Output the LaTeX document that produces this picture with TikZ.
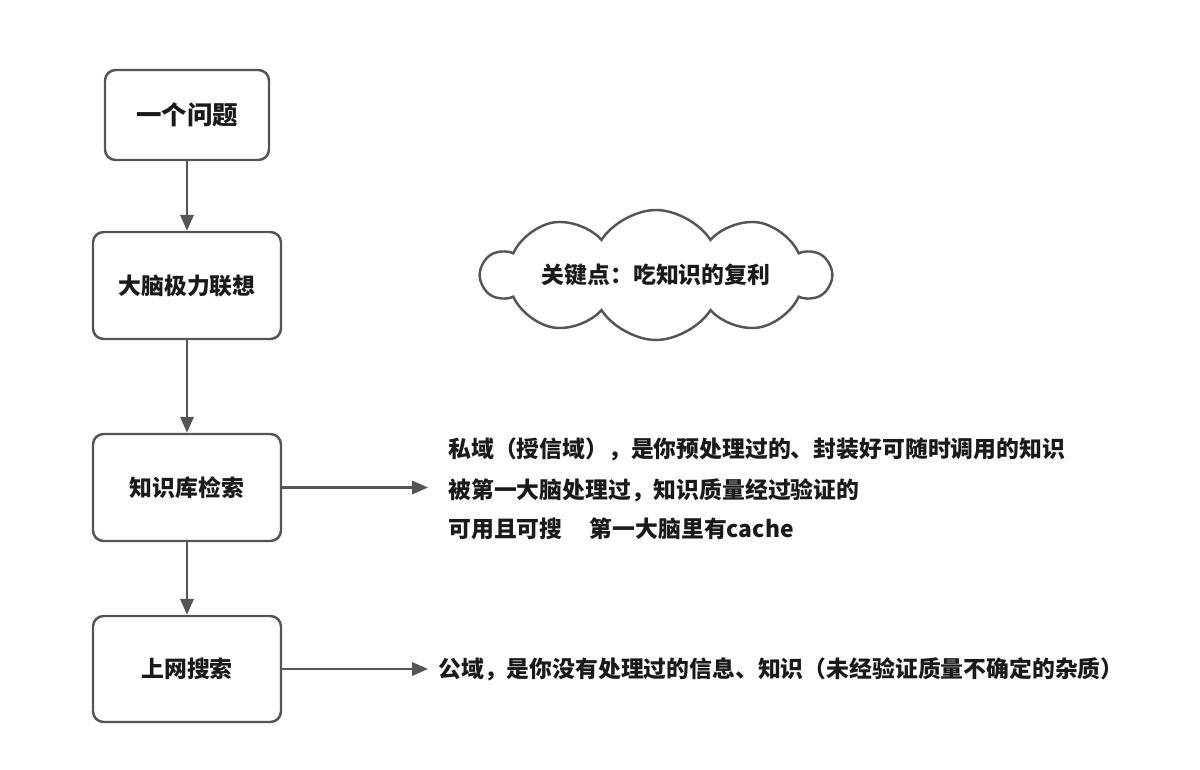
\documentclass[tikz,border=0pt]{standalone}
\usepackage{fontspec}
\setmainfont{Noto Sans CJK SC}
\usepackage{tikz}
\usetikzlibrary{shapes.symbols,arrows.meta,positioning,calc}
\usepackage{xcolor}
\definecolor{linegray}{HTML}{555555}
\definecolor{textdark}{HTML}{1A1A1A}

\tikzset{
  stepbox/.style={draw=linegray, line width=1.4pt, rounded corners=6pt, fill=white,
    text=textdark, font=\bfseries\fontsize{13}{15}\selectfont},
  flow/.style={draw=linegray, line width=1.4pt, -{Triangle[length=9pt,width=7.5pt]}},
  note/.style={anchor=west, text=textdark, inner sep=0pt, font=\bfseries\fontsize{13}{15}\selectfont}
}

\begin{document}
\begin{tikzpicture}[x=0.02cm, y=-0.02cm]
            \useasboundingbox (0,0) rectangle (1200,770);

            % --- Flow boxes ---
            \node[stepbox, minimum width=164*0.02cm, minimum height=90*0.02cm,
                  font=\bfseries\fontsize{14.5}{16}\selectfont] (q) at (187,115) {一个问题};
            \node[stepbox, minimum width=188*0.02cm, minimum height=107*0.02cm] (brain) at (187,285.5) {大脑极力联想};
            \node[stepbox, minimum width=188*0.02cm, minimum height=107*0.02cm] (kb) at (187,487.5) {知识库检索};
            \node[stepbox, minimum width=188*0.02cm, minimum height=106*0.02cm] (web) at (187,669) {上网搜索};

            % Vertical arrows
            \draw[flow] (q) -- (brain);
            \draw[flow] (brain) -- (kb);
            \draw[flow] (kb) -- (web);

            % --- Cloud ---
            \node[cloud, cloud puffs=10, cloud puff arc=115, cloud ignores aspect, inner sep=0pt,
                  draw=linegray, line width=1.4pt,
                  minimum width=348*0.02cm, minimum height=130*0.02cm, text=textdark,
                  font=\bfseries\fontsize{13}{15}\selectfont] (key) at (656,275) {关键点：吃知识的复利};

            % --- Private domain notes ---
            \node[note] (priv1) at (448,449) {私域（授信域），是你预处理过的、封装好可随时调用的知识};
            \node[note] (priv2) at (448,490) {被第一大脑处理过，知识质量经过验证的};
            \node[note] (priv3) at (448,529) {可用且可搜\hspace{1.2em}第一大脑里有cache};
            \draw[flow, shorten >=20*0.02cm] (kb.east) -- (kb.east -| priv2.west);

            % --- Public domain note ---
            \node[note] (pub) at (438,669) {公域，是你没有处理过的信息、知识（未经验证质量不确定的杂质）};
            \draw[flow, shorten >=10*0.02cm] (web.east) -- (web.east -| pub.west);
        \end{tikzpicture}
\end{document}
